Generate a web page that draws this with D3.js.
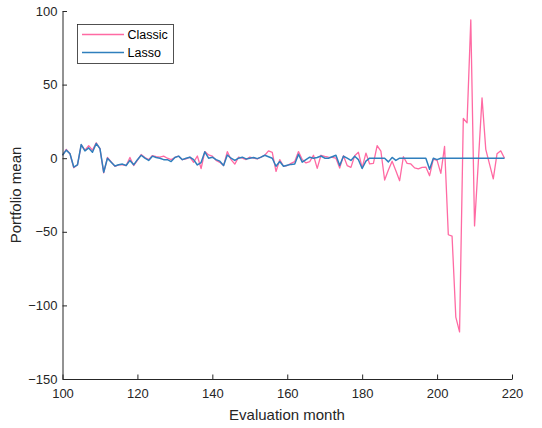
<!DOCTYPE html>
<html><head><meta charset="utf-8">
<script src="https://cdn.jsdelivr.net/npm/d3@7"></script>
<style>
body{margin:0;background:#fff;}
text{font-family:"Liberation Sans",Arial,Helvetica,sans-serif;}
</style></head>
<body><svg id="chart" width="542" height="428"></svg>
<script>
const months = [100,101,102,103,104,105,106,107,108,109,110,111,112,113,114,115,116,117,118,119,
120,121,122,123,124,125,126,127,128,129,130,131,132,133,134,135,136,137,138,139,
140,141,142,143,144,145,146,147,148,149,150,151,152,153,154,155,156,157,158,159,
160,161,162,163,164,165,166,167,168,169,170,171,172,173,174,175,176,177,178,179,
180,181,182,183,184,185,186,187,188,189,190,191,192,193,194,195,196,197,198,199,
200,201,202,203,204,205,206,207,208,209,210,211,212,213,214,215,216,217,218];

const classic = [
2,6,3,-6.5,-4.5,9,5.5,8.5,5.5,10.5,
6.5,-10,0.5,-2.5,-5.5,-4.5,-4.5,-5,0.5,-5,
-1.5,2.5,0.5,-1,1.8,1,0.7,1.4,0,-1,
0.5,1.4,-1,-0.5,0.7,-2.8,1.5,-7,4.5,2.2,
1.4,-1.5,-2.8,-5,4.5,-1,-4,0.7,0,-0.9,
0.7,0,-0.5,0.7,2,5,4,-9,-1,-5.5,
-5,-3.5,-2.3,4.5,-0.9,-3.2,-2.3,2,-6.9,2,
1.2,0.8,0.5,0,-6.7,1.7,-5,-6.2,1.7,4,
-6.5,3.5,-3.9,-3.5,8.5,4.8,-14.8,-8,-2.1,-8.5,
-15.3,1,-3.5,-3.9,-6.6,-7.3,-6.2,-6,-11.9,-0.6,
-1.5,-10.3,8,-52,-53,-108,-118,27,24,94,
-46,-3,41,6,-4,-14,3,5,0];

const lasso = [
2,5.5,3,-6,-4.5,9.3,5,7,4,10,
6.5,-9.5,0,-2.7,-5.3,-4.5,-4,-5,-1.5,-4.5,
-1,2,0,-1.5,1.4,0.5,0,-1,-1,-2.3,
0.5,1.4,-1,0,0.7,-1,-4.6,-3,4.3,0,
0.7,-1,-2,-5,2.2,0,-1.5,0,0.7,-0.5,
0,0.5,-0.3,0.7,2,1,0,-5.5,-2.3,-5.5,
-4.8,-4.2,-3.9,2.7,-2.7,-0.9,0.7,0,0.5,1.5,
0,0,1,2,-5,1.3,0,-1.5,1.3,-1,
-7,-2,0,0,0,0,0,-2.5,0.5,-1.5,
0,0,0,0,0,0,0,0,-7.5,0,
-1,0,0,0,0,0,0,0,0,0,
0,0,0,0,0,0,0,0,0];

const seriesNames = ["Classic","Lasso"];
const seriesColors = ["#ff6aa3","#2f7fbd"];
const xTicks = [100,120,140,160,180,200,220];
const yTicks = [-150,-100,-50,0,50,100];

const svg = d3.select("#chart");
const x = d3.scaleLinear().domain([100,220]).range([62.5,512]);
const y = d3.scaleLinear().domain([-150,100]).range([379,11]);
const axisColor = "#262626";

const line = d3.line().x((d,i)=>x(months[i])).y(d=>y(d));

svg.append("path").datum(classic).attr("d",line)
  .attr("fill","none").attr("stroke",seriesColors[0]).attr("stroke-width",1.3).attr("stroke-linejoin","round");
svg.append("path").datum(lasso).attr("d",line)
  .attr("fill","none").attr("stroke",seriesColors[1]).attr("stroke-width",1.5).attr("stroke-linejoin","round");

const xAxis = svg.append("g").attr("transform","translate(0,379)")
  .call(d3.axisBottom(x).tickValues(xTicks).tickSizeInner(-4.5).tickSizeOuter(0).tickPadding(10));
const yAxis = svg.append("g").attr("transform","translate(62.5,0)")
  .call(d3.axisLeft(y).tickValues(yTicks).tickSizeInner(-4.5).tickSizeOuter(0).tickPadding(5));
[xAxis,yAxis].forEach(g=>{
  g.select(".domain").attr("stroke",axisColor).attr("stroke-width",1);
  g.selectAll(".tick line").attr("stroke",axisColor);
  g.selectAll(".tick text").attr("fill",axisColor).style("font-size","13px")
   .style("font-family",'"Liberation Sans",Arial,sans-serif');
});

svg.append("text").attr("x",287).attr("y",420).attr("text-anchor","middle")
  .attr("fill",axisColor).style("font-size","15px").text("Evaluation month");
svg.append("text").attr("transform","translate(21,195) rotate(-90)").attr("text-anchor","middle")
  .attr("fill",axisColor).style("font-size","15px").text("Portfolio mean");

// legend
const lg = svg.append("g");
lg.append("rect").attr("x",77.5).attr("y",24.5).attr("width",96).attr("height",39)
  .attr("fill","#fff").attr("stroke",axisColor).attr("stroke-width",0.8);
seriesNames.forEach((n,i)=>{
  const yy = 34.5 + i*18;
  lg.append("line").attr("x1",82).attr("x2",124).attr("y1",yy).attr("y2",yy)
    .attr("stroke",seriesColors[i]).attr("stroke-width",1.3);
  lg.append("text").attr("x",127.5).attr("y",yy+4.5).attr("fill","#000")
    .style("font-size","12.5px").text(n);
});
</script></body></html>
